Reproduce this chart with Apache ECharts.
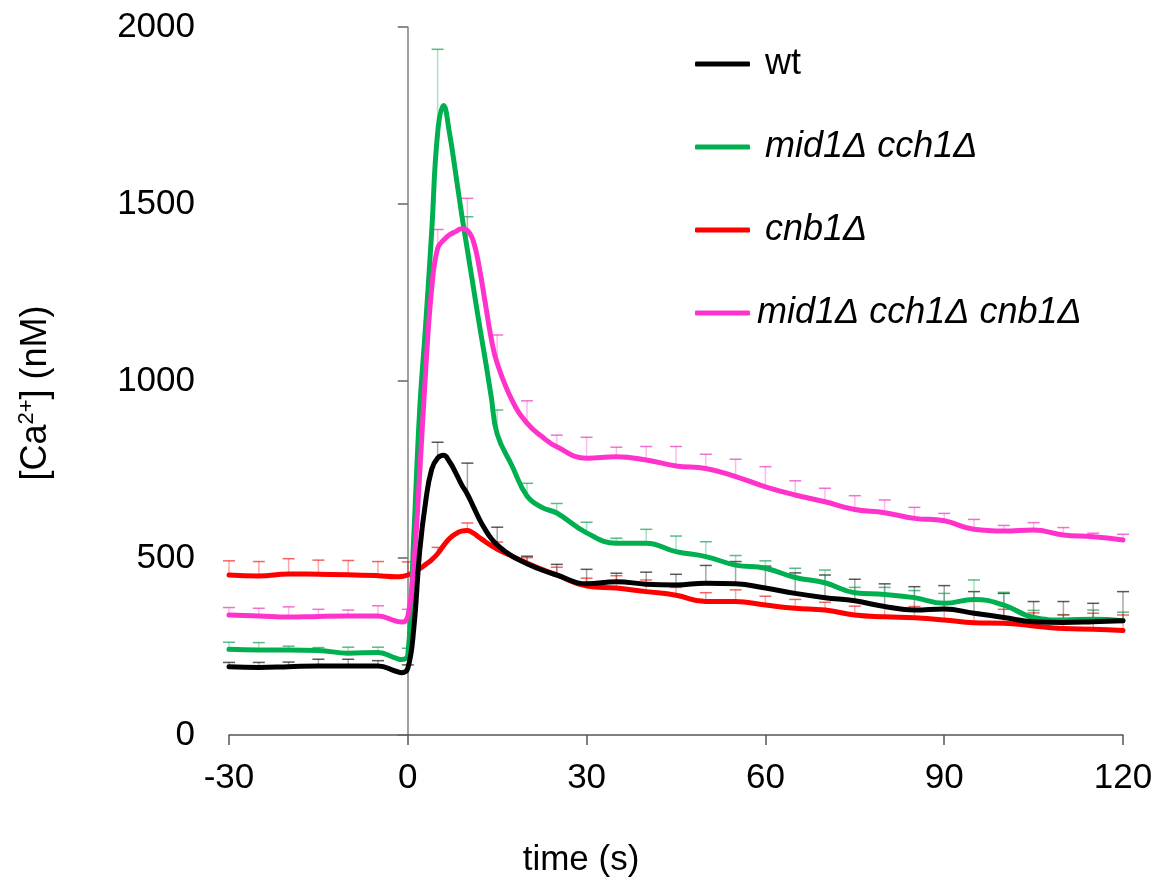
<!DOCTYPE html>
<html><head><meta charset="utf-8">
<script src="https://cdn.jsdelivr.net/npm/echarts@6/dist/echarts.min.js"></script>
<style>html,body{margin:0;padding:0;background:#fff}#c{width:1160px;height:891px}</style>
</head><body><div id="c"></div><script>
// time points (s)
const times = [-30,-25,-20,-15,-10,-5,-2,-1,0,1,2,3,4,5,6,7,8,9,10,11,12,13,14,15,17.5,20,22.5,25,30,35,40,45,50,55,60,65,70,75,80,85,90,95,100,105,110,115,120];
// mean [Ca2+] (nM)
const wt = [193,191,193,195,195,195,180,176,188,300,520,660,750,782,790,772,742,708,680,645,610,580,555,537,505,484,466,452,427,433,426,424,429,427,415,400,388,379,363,353,356,344,332,320,318,320,323];
const midCch = [242,240,240,239,231,233,217,213,225,560,920,1160,1420,1700,1778,1700,1590,1475,1370,1265,1160,1060,955,850,760,675,643,627,571,542,542,518,504,480,471,445,430,402,397,388,372,383,367,332,325,327,323];
const cnb = [452,449,455,454,453,450,447,448,452,460,470,482,495,512,535,555,568,576,578,570,558,546,535,525,505,486,468,452,421,415,405,395,377,377,367,358,353,339,334,331,325,317,316,308,301,299,295];
const triple = [339,336,333,335,336,336,322,319,335,480,740,1030,1260,1375,1398,1413,1422,1430,1425,1395,1320,1220,1120,1050,945,881,843,814,782,786,777,760,753,730,701,678,659,637,628,612,605,581,576,579,565,560,551];
// error bar times and upper error sizes
const errTimes = [-30,-25,-20,-15,-10,-5,0,5,10,15,20,25,30,35,40,45,50,55,60,65,70,75,80,85,90,95,100,105,110,115,120];
const wtErr = [12,14,13,19,19,15,10,45,88,50,21,30,41,24,34,30,50,63,62,58,64,61,64,66,66,61,68,57,59,52,82];
const midCchErr = [20,21,11,8,17,15,20,237,94,68,36,27,30,14,39,44,42,27,21,26,36,15,20,20,28,55,36,20,15,26,24];
const cnbErr = [40,41,43,40,40,40,37,18,21,20,15,22,22,35,33,22,25,33,25,25,22,25,28,32,28,30,39,37,38,45,44];
const tripleErr = [21,22,29,20,17,29,20,53,91,80,63,33,59,27,38,55,40,49,57,40,38,39,36,31,21,28,16,21,21,10,16];
const names = ['wt','mid1Δ cch1Δ','cnb1Δ','mid1Δ cch1Δ cnb1Δ'];
const xTicks = {min:-30, max:120, interval:30};
const yTicks = {min:0, max:2000, interval:500};

const FONT = '"Liberation Sans", Arial, sans-serif';
const colors = ['#000000','#00B050','#FF0000','#FF33CC'];
const stemColors = ['rgba(0,0,0,0.35)','rgba(0,176,80,0.35)','rgba(255,0,0,0.35)','rgba(255,51,204,0.35)'];
const capColors = ['rgba(0,0,0,0.65)','rgba(0,150,70,0.65)','rgba(230,0,0,0.6)','rgba(230,40,180,0.65)'];
const means = [wt, midCch, cnb, triple];
const errs = [wtErr, midCchErr, cnbErr, tripleErr];

function pairs(vals){ return times.map((t,i)=>[t, vals[i]]); }
function errData(vals, e){
  return errTimes.map((t,i)=>[t, vals[times.indexOf(t)], e[i]]);
}
function errRender(stem, cap){
  return function(params, api){
    const x = api.value(0), y = api.value(1), e = api.value(2);
    const p0 = api.coord([x, y]);
    const p1 = api.coord([x, y + e]);
    const hw = 6;
    return {type:'group', children:[
      {type:'line', shape:{x1:p0[0], y1:p0[1], x2:p1[0], y2:p1[1]}, style:{stroke:stem, lineWidth:1.5}},
      {type:'line', shape:{x1:p1[0]-hw, y1:p1[1], x2:p1[0]+hw, y2:p1[1]}, style:{stroke:cap, lineWidth:1.5}}
    ]};
  };
}

const series = [];
means.forEach((m, k)=>{
  series.push({
    type:'custom', name: names[k] + ' err', data: errData(m, errs[k]),
    encode:{x:0, y:1}, renderItem: errRender(stemColors[k], capColors[k]), z: 1, silent:true
  });
});
const lineZ = [6,4,3,5];
means.forEach((m, k)=>{
  series.push({
    type:'line', name: names[k], data: pairs(m), showSymbol:false, smooth:0.45,
    color: colors[k], lineStyle:{width:5, color: colors[k], cap:'round', join:'round'}, z: lineZ[k]
  });
});

const chart = echarts.init(document.getElementById('c'), null, {renderer:'canvas'});
chart.setOption({
  animation:false,
  backgroundColor:'#ffffff',
  grid:{left:229, right:37, top:27, bottom:156, containLabel:false, outerBoundsMode:'none'},
  xAxis:{type:'value', min:xTicks.min, max:xTicks.max, interval:xTicks.interval,
    axisLine:{onZero:true, lineStyle:{color:'#555', width:1.5}},
    axisTick:{show:true, inside:false, length:10, lineStyle:{color:'#555', width:1.5}},
    axisLabel:{fontSize:35, color:'#000', fontFamily:FONT, margin:26, formatter:(v)=>String(v)},
    splitLine:{show:false}},
  yAxis:{type:'value', min:yTicks.min, max:yTicks.max, interval:yTicks.interval,
    axisLine:{onZero:true, lineStyle:{color:'#808080', width:1.5}},
    axisTick:{show:true, inside:false, length:10, lineStyle:{color:'#666', width:1.5}},
    axisLabel:{fontSize:35, color:'#000', fontFamily:FONT, margin:34, formatter:(v)=>String(v)},
    splitLine:{show:false}},
  legend:{orient:'vertical', left:690, top:41, itemWidth:55, itemHeight:5, itemGap:47, icon:'roundRect',
    textStyle:{fontSize:36, color:'#000', fontFamily:FONT, padding:[0,0,0,10]},
    data:[
      {name:names[0], textStyle:{fontStyle:'normal'}},
      {name:names[1], textStyle:{fontStyle:'italic'}},
      {name:names[2], textStyle:{fontStyle:'italic'}},
      {name:names[3], textStyle:{fontStyle:'italic', padding:[0,0,0,2]}}
    ]},
  graphic:[
    {type:'text', x:581, y:860, style:{text:'time (s)', fontSize:35, fontFamily:FONT, fill:'#000', align:'center', verticalAlign:'middle'}},
    {type:'text', x:36, y:393, rotation:Math.PI/2,
      style:{text:'{a|[Ca}{s|2+}{a|] (nM)}', align:'center', verticalAlign:'middle',
        rich:{a:{fontSize:36, fontFamily:FONT, fill:'#000', color:'#000', lineHeight:40},
              s:{fontSize:22, fontFamily:FONT, fill:'#000', color:'#000', verticalAlign:'top', lineHeight:40}}}}
  ],
  series: series
});
</script></body></html>
